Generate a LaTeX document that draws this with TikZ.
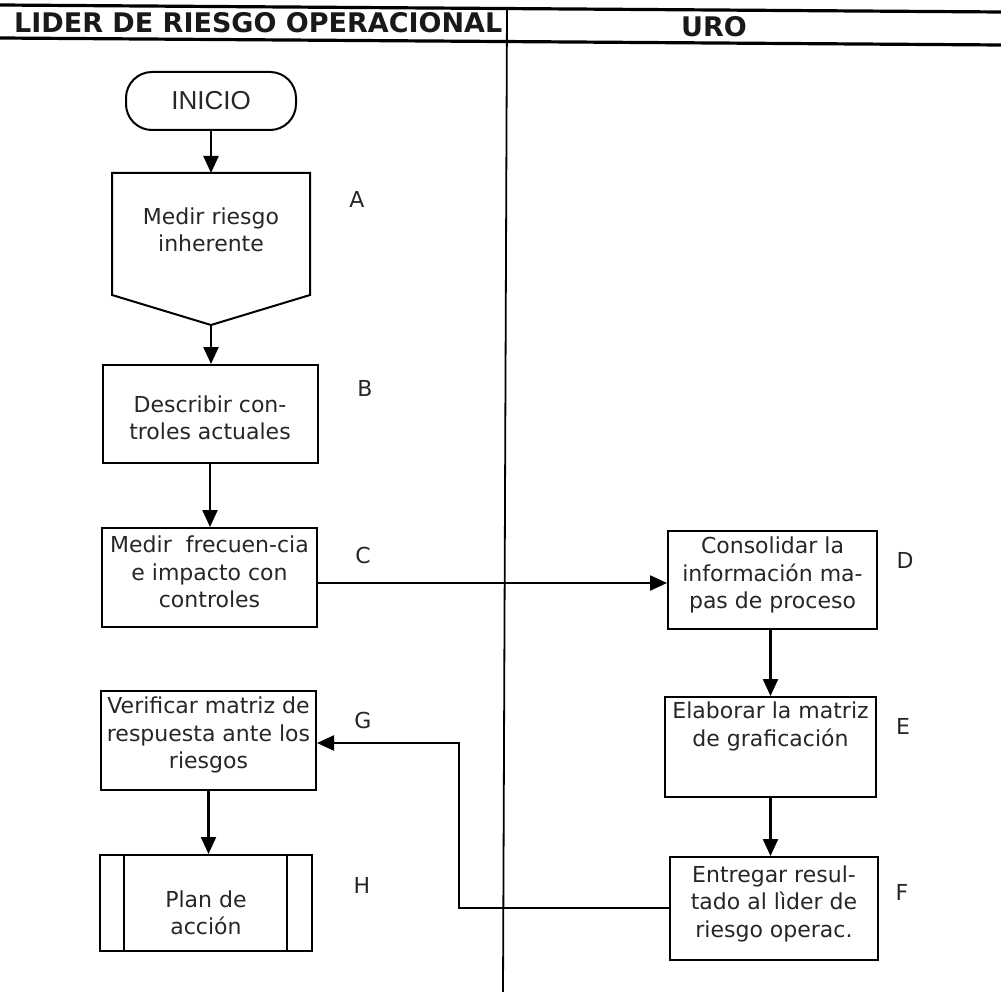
\documentclass[tikz,border=0pt]{standalone}
\usepackage{fontspec}
\setmainfont{DejaVu Sans}
\newfontfamily\arialfont{Liberation Sans}
\usetikzlibrary{arrows.meta,calc}

\begin{document}
\begin{tikzpicture}[x=1pt,y=-1pt,
  box/.style={draw, line width=2pt, align=center, inner sep=0pt,
    font=\fontsize{22}{27.5}\selectfont},
  boxtext/.style={align=center, inner sep=0pt, text=black!85, font=\fontsize{22}{27.5}\selectfont},
  tag/.style={inner sep=0pt, text=black!85, font=\fontsize{22}{25}\selectfont},
  head/.style={inner sep=0pt, text=black!90, font=\bfseries\fontsize{27}{27}\selectfont},
  arr/.style={line width=2.3pt, -{Triangle[width=15pt,length=17pt]}},
  rule/.style={line width=3.2pt},
  lane/.style={line width=1.8pt},
]
\useasboundingbox (0,0) rectangle (1001,992);

% swimlane header
\coordinate (rTL) at (0,5);   \coordinate (rTR) at (1001,12);
\coordinate (rBL) at (0,38);  \coordinate (rBR) at (1001,45);
\coordinate (laneT) at (507,8); \coordinate (laneB) at (503,992);
\draw[rule] (rTL) -- (rTR);
\draw[rule] (rBL) -- (rBR);
\draw[lane] (laneT) -- (laneB);
\node[head, anchor=west] (hLider) at (14,22.5) {LIDER DE RIESGO OPERACIONAL};
\node[head] (hUro) at (714,26.5) {URO};

% start terminal
\node[draw, line width=2pt, rounded corners=26pt, minimum width=170pt,
  minimum height=58pt, inner sep=0pt, text=black!85,
  font=\arialfont\fontsize{26}{26}\selectfont]
  (inicio) at (211,101) {INICIO};

% A: off-page connector
\coordinate (Atop) at (211,173);
\coordinate (Atip) at (211,325);
\draw[line width=2pt] (112,173) -- (310,173) -- (310,295) -- (Atip) -- (112,295) -- cycle;
\node[boxtext] (A) at (211,230) {Medir riesgo\\inherente};
\node[tag] (tA) at (357,199) {A};

% lider column
\node[box, minimum width=215pt, minimum height=98pt] (B) at (210,414) {};
\node[boxtext] (Btext) at (210,418) {Describir con-\\troles actuales};
\node[tag] (tB) at (365,388) {B};

\node[box, minimum width=215pt, minimum height=99pt] (C) at (209.5,577.5) {};
\node[boxtext] (Ctext) at (209.5,572) {Medir\ \ frecuen-cia\\e impacto con\\controles};
\node[tag] (tC) at (363,555) {C};

\node[box, minimum width=215pt, minimum height=99pt] (G) at (208.5,740.5) {};
\node[boxtext] (Gtext) at (208.5,735) {Verificar matriz de\\respuesta ante los\\riesgos};
\node[tag] (tG) at (363,720) {G};

\node[box, minimum width=212pt, minimum height=96pt] (H) at (206,903) {};
\draw[line width=2pt] ($(H.north west)+(25,0)$) -- ($(H.south west)+(25,0)$);
\draw[line width=2pt] ($(H.north east)+(-26,0)$) -- ($(H.south east)+(-26,0)$);
\node[boxtext] (Htext) at (206,913) {Plan de\\acción};
\node[tag] (tH) at (362,885) {H};

% URO column
\node[box, minimum width=209pt, minimum height=98pt] (D) at (772.5,580) {};
\node[boxtext] (Dtext) at (772.5,575) {Consolidar la\\información ma-\\pas de proceso};
\node[tag] (tD) at (905,560) {D};

\node[box, minimum width=211pt, minimum height=100pt] (E) at (770.5,747) {};
\node[boxtext] (Etext) at (770.5,726.5) {Elaborar la matriz\\de graficación};
\node[tag] (tE) at (903,726) {E};

\node[box, minimum width=208pt, minimum height=103pt] (F) at (774,908.5) {};
\node[boxtext] (Ftext) at (774,903.5) {Entregar resul-\\tado al lìder de\\riesgo operac.};
\node[tag] (tF) at (902,892) {F};

% connectors
\coordinate (cdY) at (0,583);
\coordinate (fgX) at (459,0);
\coordinate (gY) at (0,743);
\coordinate (fY) at (0,908);

\draw[arr] (inicio.south) -- (Atop);
\draw[arr] (Atip) -- (Atip |- B.north);
\draw[arr] (B.south) -- (B.south |- C.north);
\draw[arr] (C.east |- cdY) -- (D.west |- cdY);
\draw[arr] (D.south -| E.north) -- (E.north);
\draw[arr] (E.south) -- (E.south |- F.north);
\draw[arr] (F.west |- fY) -- (fgX |- fY) -- (fgX |- gY) -- (G.east |- gY);
\draw[arr] (G.south) -- (G.south |- H.north);
\end{tikzpicture}
\end{document}
